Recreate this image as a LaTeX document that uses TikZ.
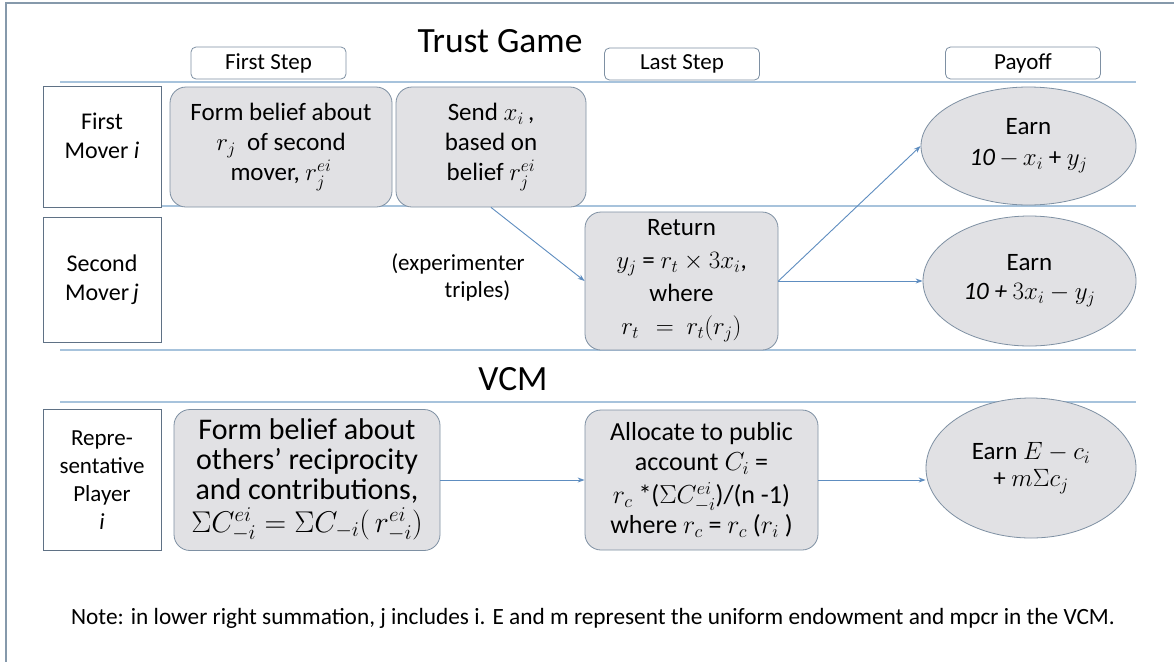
\RequirePackage{fix-cm}
\documentclass[tikz,border=0pt]{standalone}
\usepackage{fontspec}
\setmainfont{Carlito}
\usetikzlibrary{arrows.meta,shapes.geometric}
\definecolor{gridline}{HTML}{A7C3DC}
\definecolor{framec}{HTML}{8699AB}
\definecolor{boxfill}{HTML}{E1E1E4}
\definecolor{boxedge}{HTML}{7E90A3}
\definecolor{arrowc}{HTML}{5E8DC0}
\definecolor{labeledge}{HTML}{5F7185}
\tikzset{
 hdr/.style={draw=boxedge, rounded corners=5pt, fill=white, minimum width=155pt, minimum height=32pt, inner sep=0pt, font=\fontsize{23}{27}\selectfont, line width=0.8pt},
 lbl/.style={draw=labeledge, fill=white, minimum width=118pt, align=center, inner sep=0pt, line width=0.8pt, font=\fontsize{24}{29}\selectfont},
 stepbox/.style={draw=boxedge, fill=boxfill, rounded corners=16pt, align=center, inner sep=0pt, line width=0.8pt, font=\fontsize{25}{30}\selectfont},
 payoff/.style={ellipse, draw=boxedge, fill=boxfill, align=center, inner sep=0pt, line width=0.8pt, font=\fontsize{25}{31}\selectfont},
 flow/.style={draw=arrowc, line width=0.9pt, -{Stealth[length=7pt,width=5pt]}},
 gridrule/.style={draw=gridline, line width=1.5pt},
}
\begin{document}
\begin{tikzpicture}[x=1pt,y=-1pt]
\useasboundingbox (0,0) rectangle (1174,662);
\fill[white] (0,0) rectangle (1174,662);
\draw[framec, line width=1.5pt] (1174,3) -- (6,3) -- (6,662);
% grid rules
\draw[gridrule] (60,82) -- (1136,82);
\draw[gridrule] (60,206) -- (1136,206);
\draw[gridrule] (60,350) -- (1136,350);
\draw[gridrule] (60,402) -- (1136,402);
% titles
\node[font=\fontsize{35.5}{40}\selectfont, anchor=base, inner sep=0pt] (title) at (500,52) {Trust Game};
\node[font=\fontsize{35.5}{40}\selectfont, anchor=base, inner sep=0pt] (vcm) at (513,390) {VCM};
% headers
\node[hdr] (h1) at (268.5,63) {First Step};
\node[hdr] (h2) at (682,64) {Last Step};
\node[hdr] (h3) at (1023,63) {Payoff};
% row labels
\node[lbl, minimum height=121pt] (l1) at (102,146.5) {First\\Mover \textit{i}\\[-8pt]};
\node[lbl, minimum height=125pt] (l2) at (102,279.5) {Second\\Mover\,\textit{j}};
\node[lbl, minimum height=141pt, font=\fontsize{23}{28}\selectfont] (l3) at (102,480) {Repre-\\sentative\\Player\\\textit{i}};
% trust game steps
\node[stepbox, minimum width=222pt, minimum height=120pt] (fb1) at (281,147) {Form belief about\\$r_j$\ \ of second\\mover, $r_j^{ei}$};
\node[stepbox, minimum width=190pt, minimum height=120pt] (snd) at (491,147) {Send $x_i$\,,\\based on\\belief $r_j^{ei}$};
\node[stepbox, minimum width=193pt, minimum height=138pt, font=\fontsize{25}{33}\selectfont] (ret) at (681.5,281) {Return\\$y_j$ = $r_t \times 3x_i$,\\where\\$r_t\ \,=\ r_t(r_j)$};
\node[payoff, minimum width=215pt, minimum height=118pt] (e1) at (1028.5,146) {Earn\\\textit{10}\,$-\,x_i$ + $y_j$};
\node[payoff, minimum width=213pt, minimum height=130pt, font=\fontsize{25}{29}\selectfont] (e2) at (1029.5,281) {Earn\\\textit{10 +} $3x_i - y_j$};
\node[font=\fontsize{23}{27}\selectfont, align=center, inner sep=0pt] (exp) at (458,277) {(experimenter\\\hspace*{1.7em}triples)};
% VCM steps
\node[stepbox, minimum width=266pt, minimum height=141pt, font=\fontsize{30}{30}\selectfont] (fb2) at (307,480) {Form belief about\\others’ reciprocity\\and contributions,\\[3pt]$\Sigma C^{ei}_{-i} = \Sigma C_{-i}(\,r^{ei}_{-i})$};
\node[stepbox, minimum width=233pt, minimum height=140pt, font=\fontsize{26}{30}\selectfont] (alc) at (701.5,480) {Allocate to public\\account $C_i$ =\\[3pt]$r_c$ *($\Sigma C^{ei}_{-i}$)/(n -1)\\where $r_c$ = $r_c$ ($r_i$ )};
\node[payoff, minimum width=210pt, minimum height=140pt, font=\fontsize{25}{27}\selectfont] (e3) at (1031,468) {Earn $E - c_i$\\+ $m\Sigma c_j$};
% arrows
\draw[flow] (snd.south) -- (ret.west);
\draw[flow] (ret.east) -- (e1.west);
\draw[flow] (ret.east) -- (ret.east -| e2.west);
\draw[flow] (fb2.east) -- (alc.west);
\draw[flow] (alc.east) -- (alc.east -| e3.west);
% note
\node[font=\fontsize{23.3}{27}\selectfont, anchor=base, inner sep=0pt] (note) at (593,624) {Note: in lower right summation, j includes i. E and m represent the uniform endowment and mpcr in the VCM.};
\end{tikzpicture}
\end{document}
